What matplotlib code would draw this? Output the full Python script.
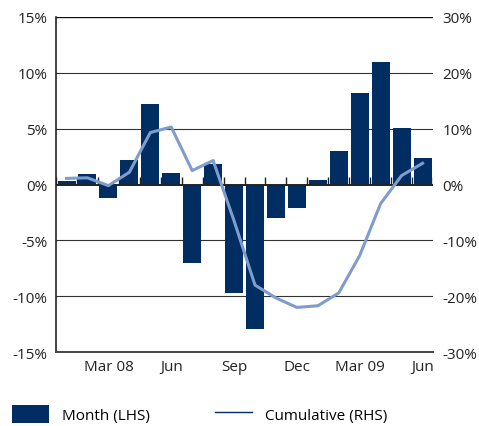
import numpy as np
import matplotlib.pyplot as plt
from matplotlib.patches import Patch
from matplotlib.lines import Line2D

plt.rcParams['font.family'] = ['Open Sans', 'DejaVu Sans']

# Monthly returns Jan 08 - Jun 09 (LHS, %) and cumulative (RHS, %)
months = ['Jan 08', 'Feb', 'Mar 08', 'Apr', 'May', 'Jun', 'Jul', 'Aug', 'Sep',
          'Oct', 'Nov', 'Dec', 'Jan 09', 'Feb', 'Mar 09', 'Apr', 'May', 'Jun']
monthly = [0.3, 0.9, -1.2, 2.2, 7.2, 1.0, -7.0, 1.8, -9.7,
           -12.9, -3.0, -2.1, 0.4, 3.0, 8.2, 11.0, 5.1, 2.4]
cumulative = [1.1, 1.2, -0.2, 2.2, 9.3, 10.3, 2.5, 4.3, -6.5,
              -18.0, -20.3, -22.0, -21.7, -19.4, -12.7, -3.4, 1.6, 3.8]
tick_idx = [2, 5, 8, 11, 14, 17]
tick_labels = ['Mar 08', 'Jun', 'Sep', 'Dec', 'Mar 09', 'Jun']
left_ticks = [-15, -10, -5, 0, 5, 10, 15]
right_ticks = [-30, -20, -10, 0, 10, 20, 30]

navy = '#002D62'
light = '#7F9CCC'
fs = 11

fig = plt.figure(figsize=(4.79, 4.27), dpi=100)
ax = fig.add_axes([0.117, 0.173, 0.787, 0.785])
x = np.arange(len(months))

for y in [-10, -5, 5, 10]:
    ax.axhline(y, color='#333333', lw=0.8, zorder=1)
ax.axhline(15, color='#111111', lw=1.0, zorder=1)
ax.axhline(0, color='#222222', lw=1.4, zorder=3)

ax.bar(x, monthly, width=0.86, color=navy, zorder=2)
# small ticks on the zero line between bars
ax.vlines(np.arange(len(months) + 1) - 0.5, 0, 0.7, color='#222222', lw=1.0, zorder=3)

ax.set_xlim(-0.5, len(months) - 0.5)
ax.set_ylim(-15, 15)
ax.set_yticks(left_ticks)
ax.set_yticklabels([f'{t}%' for t in left_ticks])
ax.set_xticks(tick_idx)
ax.set_xticklabels(tick_labels)
ax.tick_params(axis='x', length=0, pad=5, labelsize=fs, colors='#222222')
ax.tick_params(axis='y', length=0, pad=6, labelsize=fs, colors='#222222')
for s in ['top', 'right']:
    ax.spines[s].set_visible(False)
ax.spines['left'].set_color('#222222')
ax.spines['bottom'].set_color('#444444')
ax.spines['left'].set_linewidth(1.2)
ax.spines['bottom'].set_linewidth(1.4)

ax2 = ax.twinx()
ax2.plot(x, cumulative, color=light, lw=2.2, zorder=4)
ax2.set_ylim(-30, 30)
ax2.set_yticks(right_ticks)
ax2.set_yticklabels([f'{t}%' for t in right_ticks])
ax2.tick_params(axis='y', length=0, pad=7, labelsize=fs, colors='#222222')
for s in ax2.spines.values():
    s.set_visible(False)

handles = [Patch(facecolor=navy, edgecolor='none'),
           Line2D([0], [0], color=navy, lw=1.0)]
fig.legend(handles, ['Month (LHS)', 'Cumulative (RHS)'], loc='center left',
           bbox_to_anchor=(0.025, 0.028), ncol=2, frameon=False, fontsize=fs,
           borderpad=0, borderaxespad=0,
           handlelength=2.4, handleheight=1.5, columnspacing=4.3, handletextpad=0.85)

fig.savefig('out.png', dpi=100)
